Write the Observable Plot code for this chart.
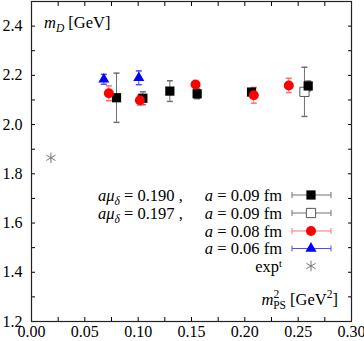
<!DOCTYPE html>
<html><head><meta charset="utf-8">
<script src="https://cdn.jsdelivr.net/npm/d3@7"></script>
<script src="https://cdn.jsdelivr.net/npm/@observablehq/plot@0.6"></script>
<style>
body{margin:0;background:#fff}
#chart{width:364px;height:341px}
</style></head><body><div id="chart"></div>
<script>
// ---- data ----
const xTickLabels = [0.00, 0.05, 0.10, 0.15, 0.20, 0.25, 0.30];
const xMinorTicks = [0, 0.025, 0.05, 0.075, 0.10, 0.125, 0.15, 0.175, 0.20, 0.225, 0.25, 0.275, 0.30];
const yTickLabels = [1.2, 1.4, 1.6, 1.8, 2.0, 2.2, 2.4];
const yMinorTicks = [1.2, 1.3, 1.4, 1.5, 1.6, 1.7, 1.8, 1.9, 2.0, 2.1, 2.2, 2.3, 2.4, 2.5];

// a mu_delta = 0.190, a = 0.09 fm (filled squares)
const sq190X = [0.0797, 0.1044, 0.1297, 0.1553, 0.2063, 0.2594];
const sq190Y = [2.109, 2.107, 2.136, 2.125, 2.132, 2.157];
const sq190E = [0.100, 0.026, 0.042, 0.020, 0.012, 0.020];
// a mu_delta = 0.197, a = 0.09 fm (open squares)
const sq197X = [0.2559];
const sq197Y = [2.133];
const sq197E = [0.100];
// a = 0.08 fm (red circles)
const a08X = [0.0725, 0.1016, 0.1538, 0.2084, 0.2412];
const a08Y = [2.127, 2.099, 2.163, 2.119, 2.159];
const a08E = [0.030, 0.020, 0.012, 0.032, 0.029];
// a = 0.06 fm (blue triangles)
const a06X = [0.0678, 0.1006];
const a06Y = [2.184, 2.190];
const a06E = [0.020, 0.028];
// experiment
const expX = [0.0182];
const expY = [1.865];

const rows = (X, Y, E) => X.map((x, i) => ({x, y: Y[i], e: E ? E[i] : 0}));
const d190 = rows(sq190X, sq190Y, sq190E);
const d197 = rows(sq197X, sq197Y, sq197E);
const d08 = rows(a08X, a08Y, a08E);
const d06 = rows(a06X, a06Y, a06E);
const dExp = rows(expX, expY);

const capSym = {draw(ctx) { ctx.moveTo(-3, 0); ctx.lineTo(3, 0); }};
function errorBars(data, color) {
  return [
    Plot.ruleX(data, {x: "x", y1: d => d.y - d.e, y2: d => d.y + d.e, stroke: color, strokeWidth: 1}),
    Plot.dot(data, {x: "x", y: d => d.y - d.e, symbol: capSym, stroke: color, fill: "none", r: 3}),
    Plot.dot(data, {x: "x", y: d => d.y + d.e, symbol: capSym, stroke: color, fill: "none", r: 3})
  ];
}

const FONT = "'Liberation Serif', 'DejaVu Serif', serif";
const chart = Plot.plot({
  width: 364, height: 341,
  marginLeft: 31, marginRight: 13, marginTop: 1, marginBottom: 20,
  style: {fontFamily: FONT, fontSize: "16px", background: "white", color: "black", overflow: "visible"},
  x: {domain: [0, 0.30]},
  y: {domain: [1.2, 2.5]},
  marks: [
    Plot.axisX(xTickLabels, {anchor: "bottom", tickSize: 0, tickPadding: 4, tickFormat: d3.format(".2f"), label: null, fontSize: 16}),
    Plot.axisX(xMinorTicks, {anchor: "bottom", tickSize: -4, tickFormat: () => "", label: null}),
    Plot.axisX(xMinorTicks, {anchor: "top", tickSize: -4, tickFormat: () => "", label: null}),
    Plot.axisY(yTickLabels, {anchor: "left", tickSize: 0, tickPadding: 9, tickFormat: d3.format(".1f"), label: null, fontSize: 16}),
    Plot.axisY(yMinorTicks, {anchor: "left", tickSize: -4, tickFormat: () => "", label: null}),
    Plot.axisY(yMinorTicks, {anchor: "right", tickSize: -4, tickFormat: () => "", label: null}),
    Plot.frame({stroke: "#222", strokeWidth: 1.2}),
    ...errorBars(d190, "#707070"),
    ...errorBars(d197, "#707070"),
    ...errorBars(d08, "#ff7070"),
    ...errorBars(d06, "#4a4aff"),
    Plot.dot(d197, {x: "x", y: "y", symbol: "square", r: 5.2, fill: "white", stroke: "#555", strokeWidth: 1}),
    Plot.dot(d190, {x: "x", y: "y", symbol: "square", r: 5.2, fill: "black", stroke: "none"}),
    Plot.dot(d08, {x: "x", y: "y", symbol: "circle", r: 5, fill: "red", stroke: "none"}),
    Plot.dot(d06, {x: "x", y: "y", symbol: "triangle", r: 4.1, fill: "blue", stroke: "none"}),
    Plot.dot(dExp, {x: "x", y: "y", symbol: "asterisk", r: 5, stroke: "#777", strokeWidth: 1})
  ]
});
document.getElementById("chart").appendChild(chart);

// ---- rich text annotations (titles + legend) ----
const svg = d3.select(chart);
function richText(g, x, y, segs, anchor) {
  const t = g.append("text").attr("x", x).attr("y", y)
    .attr("font-family", FONT).attr("font-size", 16.5).attr("fill", "black")
    .attr("text-anchor", anchor || "start");
  for (const s of segs) {
    const ts = t.append("tspan").text(s.t);
    if (s.i) ts.attr("font-style", "italic");
    if (s.size) ts.attr("font-size", s.size);
    if (s.dy) ts.attr("dy", s.dy);
    if (s.dx) ts.attr("dx", s.dx);
  }
  return t;
}
const g = svg.append("g");
// y title
richText(g, 44, 28, [
  {t: "m", i: true}, {t: "D", i: true, size: 11.5, dy: 4}, {t: " [GeV]", dy: -4}
]);
// x title
richText(g, 338, 305, [
  {t: "m", i: true}, {t: "2", size: 11.5, dy: -7}, {t: "PS", size: 11.5, dx: -6, dy: 11},
  {t: " [GeV", dy: -4}, {t: "2", size: 11.5, dy: -7}, {t: "]", dy: 7}
], "end");

// legend
const legRows = [
  {y: 195, left: "0.190", sym: "sq"},
  {y: 213, left: "0.197", sym: "osq"},
  {y: 231, a: "0.08", sym: "circ"},
  {y: 248.5, a: "0.06", sym: "tri"},
  {y: 266, exp: true, sym: "exp"}
];
const legA = ["0.09", "0.09"];
legRows.forEach((r, i) => {
  const base = r.y + 5.5;
  if (r.left) {
    richText(g, 98, base, [
      {t: "aμ", i: true}, {t: "δ", i: true, size: 11.5, dy: 4}, {t: " = " + r.left + " ,", dy: -4}
    ]);
  }
  if (r.exp) {
    richText(g, 282, base, [{t: "exp"}, {t: "t", size: 10.5, dy: -5}], "end");
  } else {
    const av = r.a || legA[i];
    richText(g, 282, base, [{t: "a", i: true}, {t: " = " + av + " fm"}], "end");
  }
  const cx = 311, cy = r.y;
  const colors = {sq: ["#707070", "black"], osq: ["#707070", "#555"], circ: ["#ff7070", "red"], tri: ["#4a4aff", "blue"]};
  if (r.sym !== "exp") {
    const ec = colors[r.sym][0];
    g.append("line").attr("x1", 292).attr("x2", 331).attr("y1", cy).attr("y2", cy).attr("stroke", ec);
    [292, 331].forEach(x => g.append("line").attr("x1", x).attr("x2", x).attr("y1", cy - 3).attr("y2", cy + 3).attr("stroke", ec));
  }
  const sym = {sq: d3.symbolSquare, osq: d3.symbolSquare, circ: d3.symbolCircle, tri: d3.symbolTriangle, exp: d3.symbolAsterisk}[r.sym];
  const size = {sq: 85, osq: 85, circ: 78, tri: 53, exp: 78}[r.sym];
  const p = g.append("path").attr("d", d3.symbol(sym, size)()).attr("transform", `translate(${cx},${cy})`);
  if (r.sym === "sq") p.attr("fill", "black");
  else if (r.sym === "osq") p.attr("fill", "white").attr("stroke", "#555");
  else if (r.sym === "circ") p.attr("fill", "red");
  else if (r.sym === "tri") p.attr("fill", "blue");
  else p.attr("fill", "none").attr("stroke", "#777");
});
</script>
</body></html>
